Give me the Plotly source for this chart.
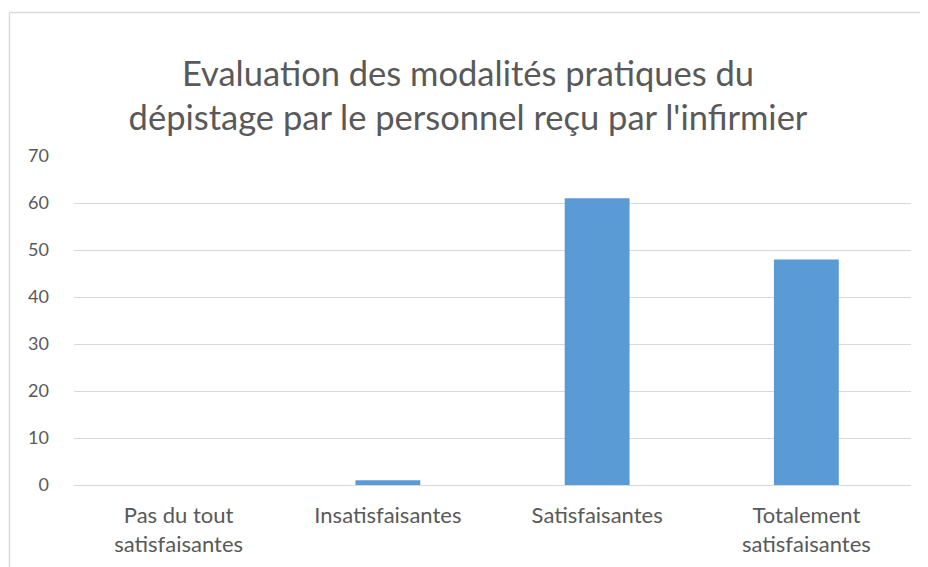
import plotly.graph_objects as go

categories = ["Pas du tout<br>satisfaisantes", "Insatisfaisantes", "Satisfaisantes", "Totalement<br>satisfaisantes"]
values = [0, 1, 61, 48]
y_ticks = [0, 10, 20, 30, 40, 50, 60, 70]
title_text = "Evaluation des modalités pratiques du<br>dépistage par le personnel reçu par l'infirmier"

# page body has an 8px default margin; figure sized to fit the window
OFF = 8
W, H = 928 - OFF, 567 - OFF
ML, MR, MT, MB = 74 - OFF, 17, 156 - OFF, 82
PW, PH = W - ML - MR, H - MT - MB

def px_x(x):
    return (x - OFF - ML) / PW

def px_y(y):
    return (H - MB - (y - OFF)) / PH

FONT = "Lato"
GREY = "#595959"

fig = go.Figure(go.Bar(x=categories, y=values, marker_color="#5b9bd5",
                       marker_line_width=0, width=0.31))

fig.update_layout(
    width=W, height=H,
    margin=dict(l=ML, r=MR, t=MT, b=MB),
    paper_bgcolor="white", plot_bgcolor="white",
    showlegend=False,
    title=dict(text=title_text, x=0.5, xanchor="center", y=1 - 77.5 / H, yanchor="middle",
               font=dict(family=FONT, size=34.5, color=GREY)),
    font=dict(family=FONT, size=18, color=GREY),
    xaxis=dict(showgrid=False, showline=True, linecolor="#d9d9d9", linewidth=1,
               ticks="", ticklabelstandoff=11, automargin=False,
               tickfont=dict(size=22, color=GREY)),
    yaxis=dict(range=[0, 70], tickvals=y_ticks, showgrid=True, gridcolor="#d9d9d9",
               gridwidth=1, zeroline=False, showline=False, ticks="", automargin=False,
               ticklabelstandoff=24, tickfont=dict(size=18, color=GREY)),
    shapes=[
        dict(type="line", xref="paper", yref="paper", x0=px_x(9.5), x1=px_x(935),
             y0=px_y(12.5), y1=px_y(12.5), line=dict(color="#d9d9d9", width=1.5)),
        dict(type="line", xref="paper", yref="paper", x0=px_x(9.5), x1=px_x(9.5),
             y0=px_y(12.5), y1=px_y(575), line=dict(color="#d9d9d9", width=1.5)),
    ],
)

fig.write_html("out.html")
